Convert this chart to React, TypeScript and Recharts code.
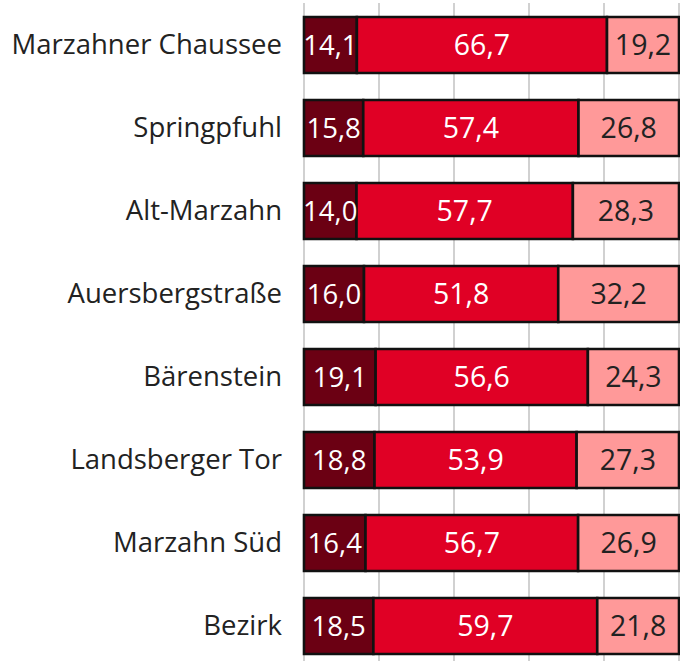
import { BarChart, Bar, XAxis, YAxis, CartesianGrid, LabelList } from "recharts";

const CATEGORIES = [
  "Marzahner Chaussee",
  "Springpfuhl",
  "Alt-Marzahn",
  "Auersbergstraße",
  "Bärenstein",
  "Landsberger Tor",
  "Marzahn Süd",
  "Bezirk",
];
const LOW = [14.1, 15.8, 14.0, 16.0, 19.1, 18.8, 16.4, 18.5];
const MID = [66.7, 57.4, 57.7, 51.8, 56.6, 53.9, 56.7, 59.7];
const HIGH = [19.2, 26.8, 28.3, 32.2, 24.3, 27.3, 26.9, 21.8];
const X_TICKS = [0, 20, 40, 60, 80, 100];

const data = CATEGORIES.map((name, i) => ({
  name,
  low: LOW[i],
  mid: MID[i],
  high: HIGH[i],
}));

const FONT = "'Open Sans', 'Noto Sans', sans-serif";
const fmt = (v: any) => Number(v).toFixed(1).replace(".", ",");

export default function App() {
  return (
    <div
      style={{
        position: "fixed",
        left: 0,
        top: 0,
        width: 680,
        height: 661,
        overflow: "hidden",
        background: "#fff",
        fontFamily: FONT,
      }}
    >
      <BarChart
        width={680}
        height={670}
        data={data}
        layout="vertical"
        margin={{ top: 3, right: 1, bottom: 3, left: 0 }}
        barSize={56}
      >
        <CartesianGrid horizontal={false} stroke="#b8b8b8" strokeWidth={1.3} />
        <XAxis type="number" domain={[0, 100]} ticks={X_TICKS} hide />
        <YAxis
          type="category"
          dataKey="name"
          width={304}
          axisLine={false}
          tickLine={false}
          tickMargin={16}
          tick={{ fontSize: 27.5, fill: "#222", fontFamily: FONT }}
        />
        <Bar dataKey="low" stackId="a" fill="#6b0013" stroke="#111" strokeWidth={2.6} isAnimationActive={false}>
          <LabelList dataKey="low" position="center" formatter={fmt} fill="#fff" fontSize={27.5} fontFamily={FONT} />
        </Bar>
        <Bar dataKey="mid" stackId="a" fill="#e00025" stroke="#111" strokeWidth={2.6} isAnimationActive={false}>
          <LabelList dataKey="mid" position="center" formatter={fmt} fill="#fff" fontSize={28.5} fontFamily={FONT} />
        </Bar>
        <Bar dataKey="high" stackId="a" fill="#ff9999" stroke="#111" strokeWidth={2.6} isAnimationActive={false}>
          <LabelList dataKey="high" position="center" formatter={fmt} fill="#222" fontSize={28.5} fontFamily={FONT} />
        </Bar>
      </BarChart>
    </div>
  );
}
